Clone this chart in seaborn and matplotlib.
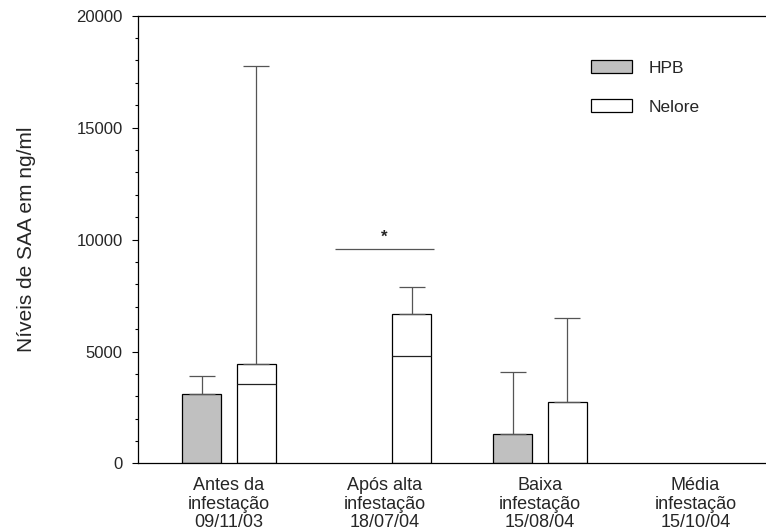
import numpy as np
import pandas as pd
import seaborn as sns
from matplotlib import pyplot as plt

# values (ng/ml)
categories = ["Antes da\ninfestação\n09/11/03", "Após alta\ninfestação\n18/07/04",
              "Baixa\ninfestação\n15/08/04", "Média\ninfestação\n15/10/04"]
groups = ["HPB", "Nelore"]
hpb_top = [3090, np.nan, 1330, np.nan]
hpb_upper = [3920, np.nan, 4100, np.nan]
nelore_top = [4460, 6690, 2760, np.nan]
nelore_mid = [3560, 4810, np.nan, np.nan]
nelore_upper = [17750, 7890, 6500, np.nan]
signif_y = 9580
yticks = [0, 5000, 10000, 15000, 20000]

df = pd.DataFrame({
    "periodo": categories * 2,
    "grupo": ["HPB"] * 4 + ["Nelore"] * 4,
    "saa": hpb_top + nelore_top,
    "sup": hpb_upper + nelore_upper,
    "mid": [np.nan] * 4 + nelore_mid,
})

sns.set_theme(style="ticks")
plt.rcParams["font.family"] = ["Liberation Sans", "DejaVu Sans"]

fig = plt.figure(figsize=(7.66, 5.32), dpi=100)
ax = fig.add_axes([0.1806, 0.1288, 0.8194, 0.8417])

sns.barplot(data=df.dropna(subset=["saa"]), x="periodo", y="saa", hue="grupo",
            order=categories, hue_order=groups,
            palette={"HPB": "#c0c0c0", "Nelore": "white"},
            edgecolor="black", linewidth=0.9, width=0.7, gap=0.28,
            errorbar=None, ax=ax)

# whiskers (upper only) and inner line, placed on the bars seaborn drew
for cont, g in zip(ax.containers, groups):
    sub = df[df.grupo == g].set_index("periodo")
    for p in cont.patches:
        h = p.get_height()
        if np.isnan(h):
            continue
        cx = p.get_x() + p.get_width() / 2
        row = sub.loc[categories[int(round(cx))]]
        ax.errorbar(cx, h, yerr=[[0], [row.sup - h]], fmt="none",
                    ecolor="#555555", elinewidth=0.9, capsize=9.5,
                    capthick=0.9, zorder=1)
        if not np.isnan(row.mid):
            ax.hlines(row.mid, p.get_x(), p.get_x() + p.get_width(),
                      color="#222222", lw=0.9, zorder=3)

# significance mark over "Após alta"
ax.hlines(signif_y, 1 - 0.32, 1 + 0.32, color="#555555", lw=0.9)
ax.text(1, signif_y + 180, "*", ha="center", va="bottom", fontsize=12,
        fontweight="bold")

ax.set_xlim(-0.583, 3.453)
ax.set_ylim(0, 20000)
ax.set_yticks(yticks)
ax.set_yticks(np.arange(0, 20001, 1000), minor=True)
ax.tick_params(axis="y", which="major", length=4.3, width=0.8, pad=7,
               labelsize=12, direction="out", color="black")
ax.tick_params(axis="y", which="minor", length=2.4, width=0.8,
               direction="out", color="black")
ax.tick_params(axis="x", length=0, pad=10, labelsize=13)
for lab in ax.get_xticklabels():
    lab.set_linespacing(1.12)

ax.set_xlabel("")
ax.set_ylabel("Níveis de SAA em ng/ml", fontsize=15)
ax.yaxis.set_label_coords(-0.163, 0.5)

ax.spines["right"].set_visible(False)
for s in ["left", "top", "bottom"]:
    ax.spines[s].set_color("black")
    ax.spines[s].set_linewidth(0.9)

handles, labels = ax.get_legend_handles_labels()
ax.legend(handles, labels, loc="upper left", bbox_to_anchor=(0.7105, 0.9166),
          frameon=False, fontsize=12.5, handlelength=2.35, handleheight=0.78,
          handletextpad=0.95, labelspacing=1.35, borderaxespad=0)

fig.savefig("out.png", dpi=100)
